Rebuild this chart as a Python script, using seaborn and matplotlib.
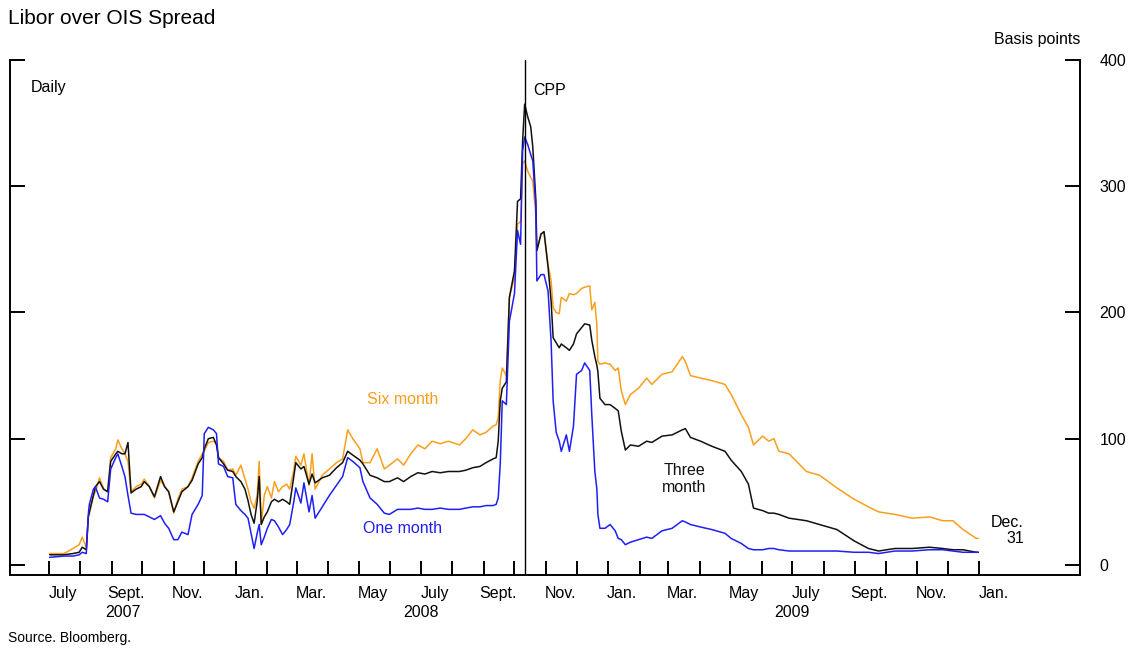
import matplotlib
matplotlib.use("Agg")
import matplotlib.pyplot as plt
import matplotlib.dates as mdates
import matplotlib.transforms as mtransforms
from matplotlib.ticker import FixedLocator, FixedFormatter, NullFormatter
import pandas as pd
import seaborn as sns

# -------- data (basis points) --------
dates = [
    "2007-07-02", "2007-07-16", "2007-07-25", "2007-07-31", "2007-08-03", "2007-08-07",
    "2007-08-09", "2007-08-10", "2007-08-14", "2007-08-16", "2007-08-20", "2007-08-24",
    "2007-08-28", "2007-08-31", "2007-09-05", "2007-09-07", "2007-09-11", "2007-09-14",
    "2007-09-17", "2007-09-20", "2007-09-25", "2007-09-30", "2007-10-03", "2007-10-08",
    "2007-10-13", "2007-10-19", "2007-10-23", "2007-10-27", "2007-11-01", "2007-11-05",
    "2007-11-09", "2007-11-15", "2007-11-19", "2007-11-25", "2007-11-29", "2007-12-01",
    "2007-12-05", "2007-12-10", "2007-12-13", "2007-12-15", "2007-12-20", "2007-12-24",
    "2007-12-29", "2008-01-01", "2008-01-06", "2008-01-10", "2008-01-13", "2008-01-16",
    "2008-01-19", "2008-01-22", "2008-01-24", "2008-01-26", "2008-01-29", "2008-02-01",
    "2008-02-05", "2008-02-08", "2008-02-12", "2008-02-16", "2008-02-20", "2008-02-23",
    "2008-02-27", "2008-02-29", "2008-03-05", "2008-03-08", "2008-03-13", "2008-03-16",
    "2008-03-19", "2008-03-26", "2008-04-02", "2008-04-09", "2008-04-15", "2008-04-20",
    "2008-04-25", "2008-05-02", "2008-05-05", "2008-05-12", "2008-05-19", "2008-05-26",
    "2008-05-31", "2008-06-08", "2008-06-14", "2008-06-21", "2008-06-28", "2008-07-05",
    "2008-07-12", "2008-07-20", "2008-07-28", "2008-08-08", "2008-08-14", "2008-08-21",
    "2008-08-28", "2008-09-03", "2008-09-10", "2008-09-13", "2008-09-15", "2008-09-17",
    "2008-09-19", "2008-09-23", "2008-09-26", "2008-10-01", "2008-10-04", "2008-10-07",
    "2008-10-09", "2008-10-11", "2008-10-14", "2008-10-17", "2008-10-19", "2008-10-22",
    "2008-10-23", "2008-10-27", "2008-10-30", "2008-11-03", "2008-11-06", "2008-11-08",
    "2008-11-11", "2008-11-14", "2008-11-16", "2008-11-21", "2008-11-24", "2008-11-28",
    "2008-12-01", "2008-12-06", "2008-12-09", "2008-12-14", "2008-12-16", "2008-12-19",
    "2008-12-21", "2008-12-22", "2008-12-24", "2008-12-29", "2009-01-03", "2009-01-08",
    "2009-01-11", "2009-01-14", "2009-01-18", "2009-01-23", "2009-01-31", "2009-02-08",
    "2009-02-13", "2009-02-23", "2009-03-05", "2009-03-15", "2009-03-18", "2009-03-23",
    "2009-04-02", "2009-04-13", "2009-04-26", "2009-05-02", "2009-05-12", "2009-05-19",
    "2009-05-24", "2009-06-02", "2009-06-08", "2009-06-13", "2009-06-18", "2009-06-28",
    "2009-07-15", "2009-07-28", "2009-08-14", "2009-08-31", "2009-09-14", "2009-09-24",
    "2009-10-10", "2009-10-27", "2009-11-13", "2009-11-26", "2009-12-06", "2009-12-16",
    "2009-12-29", "2009-12-31",
]

one_month = [
    6, 7, 7, 8, 10, 9,
    40, 48, 60, 62, 53, 52,
    50, 76, 85, 88, 78, 70,
    55, 41, 40, 40, 40, 38,
    36, 39, 33, 29, 20, 20,
    26, 24, 40, 48, 55, 104,
    109, 107, 104, 80, 78, 70,
    69, 48, 43, 40, 37, 25,
    13, 25, 32, 16, 22, 29,
    36, 35, 30, 24, 28, 32,
    50, 61, 49, 65, 42, 55,
    37, 46, 55, 63, 70, 85,
    82, 77, 66, 53, 48, 41,
    40, 44, 44, 44, 45, 44,
    44, 45, 44, 44, 45, 46,
    46, 47, 47, 48, 53, 80,
    130, 127, 193, 215, 265, 254,
    328, 339, 333, 325, 320, 283,
    225, 230, 230, 217, 177, 130,
    105, 98, 90, 103, 90, 110,
    151, 154, 160, 154, 119, 74,
    60, 40, 29, 29, 32, 27,
    21, 20, 16, 18, 20, 22,
    21, 27, 29, 35, 34, 32,
    30, 28, 25, 21, 17, 13,
    12, 12, 13, 13, 12, 11,
    11, 11, 11, 10, 10, 9,
    11, 11, 12, 12, 11, 10,
    10, 10,
]

three_month = [
    8, 8, 9, 10, 14, 12,
    38, 42, 55, 62, 66, 60,
    58, 82, 88, 90, 88, 88,
    97, 57, 60, 62, 66, 62,
    54, 70, 62, 58, 42, 50,
    58, 62, 67, 80, 85, 92,
    100, 101, 95, 85, 80, 75,
    74, 70, 66, 60, 51, 40,
    33, 50, 70, 32, 38, 42,
    50, 52, 50, 52, 50, 48,
    70, 81, 76, 78, 64, 72,
    65, 69, 71, 77, 81, 90,
    87, 83, 80, 71, 69, 66,
    66, 69, 66, 70, 73, 72,
    74, 73, 74, 74, 75, 77,
    78, 81, 84, 85, 98, 130,
    140, 145, 212, 233, 288, 290,
    336, 365, 355, 347, 331, 289,
    249, 262, 264, 236, 209, 180,
    176, 172, 175, 172, 170, 175,
    183, 188, 191, 190, 178, 165,
    158, 153, 132, 127, 127, 124,
    122, 106, 91, 95, 94, 98,
    97, 102, 103, 107, 108, 101,
    98, 94, 90, 83, 74, 64,
    45, 43, 41, 41, 40, 37,
    35, 32, 28, 19, 13, 11,
    13, 13, 14, 13, 12, 12,
    10, 10,
]

six_month = [
    9, 9, 13, 16, 22, 14,
    38, 40, 55, 58, 69, 60,
    58, 85, 92, 99, 92, 88,
    82, 58, 62, 64, 68, 62,
    53, 67, 62, 58, 41, 52,
    60, 62, 69, 82, 88, 90,
    97, 98, 96, 85, 82, 75,
    76, 71, 79, 68, 60, 50,
    45, 55, 82, 32, 55, 62,
    53, 66, 58, 62, 64, 60,
    75, 86, 79, 88, 63, 88,
    60, 71, 76, 81, 84, 107,
    100, 92, 81, 81, 92, 76,
    79, 84, 79, 88, 95, 92,
    98, 96, 98, 95, 100, 107,
    103, 105, 110, 111, 117, 146,
    156, 150, 212, 228, 270, 272,
    318, 320, 312, 307, 304, 277,
    249, 262, 264, 238, 225, 204,
    200, 199, 212, 209, 215, 214,
    215, 219, 220, 221, 202, 208,
    190, 161, 159, 160, 159, 154,
    156, 138, 127, 135, 140, 148,
    143, 151, 153, 165, 161, 150,
    148, 146, 143, 135, 119, 109,
    95, 102, 98, 100, 90, 88,
    74, 71, 61, 52, 46, 42,
    40, 37, 38, 35, 35, 28,
    21, 21,
]

series_names = ["One month", "Three month", "Six month"]
series_colors = {"One month": "#1F1FF5", "Three month": "#111111", "Six month": "#FA9F1C"}

month_label_dates = [
    "2007-07-15", "2007-09-15", "2007-11-15", "2008-01-15", "2008-03-15", "2008-05-15",
    "2008-07-15", "2008-09-15", "2008-11-15", "2009-01-15", "2009-03-15", "2009-05-15",
    "2009-07-15", "2009-09-15", "2009-11-15", "2010-01-15",
]
month_labels = ["July", "Sept.", "Nov.", "Jan.", "Mar.", "May",
                "July", "Sept.", "Nov.", "Jan.", "Mar.", "May",
                "July", "Sept.", "Nov.", "Jan."]
year_label_dates = ["2007-09-12", "2008-07-01", "2009-07-01"]
year_labels = ["2007", "2008", "2009"]

cpp_date = "2008-10-11"

# -------- frame --------
df = pd.DataFrame({
    "date": pd.to_datetime(dates * 3),
    "spread": one_month + three_month + six_month,
    "tenor": [n for n in series_names for _ in dates],
})

sns.set_theme(style="ticks")
plt.rcParams["font.family"] = ["Liberation Sans", "DejaVu Sans"]
plt.rcParams["text.color"] = "black"

fig = plt.figure(figsize=(11.31, 6.49), dpi=100)
ax = fig.add_axes([10 / 1131, 1 - 575 / 649, 1070 / 1131, 515 / 649])

sns.lineplot(data=df, x="date", y="spread", hue="tenor", hue_order=series_names[::-1],
             palette=series_colors, linewidth=1.1, legend=False, ax=ax)

ax.axvline(pd.Timestamp(cpp_date), color="black", lw=1.0)

ax.set_xlim(pd.Timestamp("2007-05-24"), pd.Timestamp("2010-04-10"))
ax.set_ylim(-8, 400)
ax.set_xlabel("")
ax.set_ylabel("")

# spines
for side in ["left", "right", "bottom"]:
    ax.spines[side].set_linewidth(1.4)
    ax.spines[side].set_color("black")
ax.spines["top"].set_visible(False)

# y axis: labels on the right, inward ticks on both sides
ax.set_yticks([0, 100, 200, 300, 400])
ax.yaxis.set_minor_locator(FixedLocator([400]))
ax.tick_params(axis="y", which="major", direction="in", left=True, right=True,
               labelleft=False, labelright=True, length=10.5, width=1.4,
               pad=14, labelsize=11.5, colors="black")
ax.tick_params(axis="y", which="minor", direction="in", left=True, right=True,
               length=22, width=1.4)

# x axis: monthly ticks, labels mid-month
ax.set_xticks([pd.Timestamp(d) for d in pd.date_range("2007-07-01", "2010-01-01", freq="MS")])
ax.xaxis.set_major_formatter(NullFormatter())
ax.xaxis.set_minor_locator(FixedLocator(mdates.date2num(pd.to_datetime(month_label_dates))))
ax.xaxis.set_minor_formatter(FixedFormatter(month_labels))
ax.tick_params(axis="x", which="major", direction="in", length=10, width=1.4,
               bottom=True, top=False, color="black")
ax.tick_params(axis="x", which="minor", length=0, pad=8, labelsize=11.5, colors="black")

xtrans = mtransforms.blended_transform_factory(ax.transData, ax.transAxes)
for d, lab in zip(year_label_dates, year_labels):
    ax.text(pd.Timestamp(d), -0.072, lab, transform=xtrans, ha="center", va="center",
            fontsize=11.5)

# annotations
ax.text(0.019, 0.946, "Daily", transform=ax.transAxes, fontsize=11.5, va="center", ha="left")
ax.text(1.0, 1.039, "Basis points", transform=ax.transAxes, fontsize=11.5,
        va="center", ha="right")
ax.annotate("CPP", xy=(pd.Timestamp(cpp_date), 376), xytext=(6, 0),
            textcoords="offset points", va="center", ha="left", fontsize=11.5)
ax.text(pd.Timestamp("2008-06-13"), 131, "Six month", color=series_colors["Six month"],
        ha="center", va="center", fontsize=11.5)
ax.text(pd.Timestamp("2008-06-13"), 29, "One month", color=series_colors["One month"],
        ha="center", va="center", fontsize=11.5)
ax.text(pd.Timestamp("2009-03-17"), 68, "Three\nmonth", color="#111111",
        ha="center", va="center", fontsize=11.5, linespacing=1.1)
ax.text(pd.Timestamp("2010-02-14"), 27, "Dec.\n31", ha="right", va="center",
        multialignment="right", fontsize=11.5, linespacing=1.1)

fig.text(8 / 1131, 1 - 18 / 649, "Libor over OIS Spread", fontsize=15, va="center", ha="left")
fig.text(8 / 1131, 1 - 638 / 649, "Source. Bloomberg.", fontsize=10, va="center", ha="left")

fig.savefig("out.png", dpi=100)
